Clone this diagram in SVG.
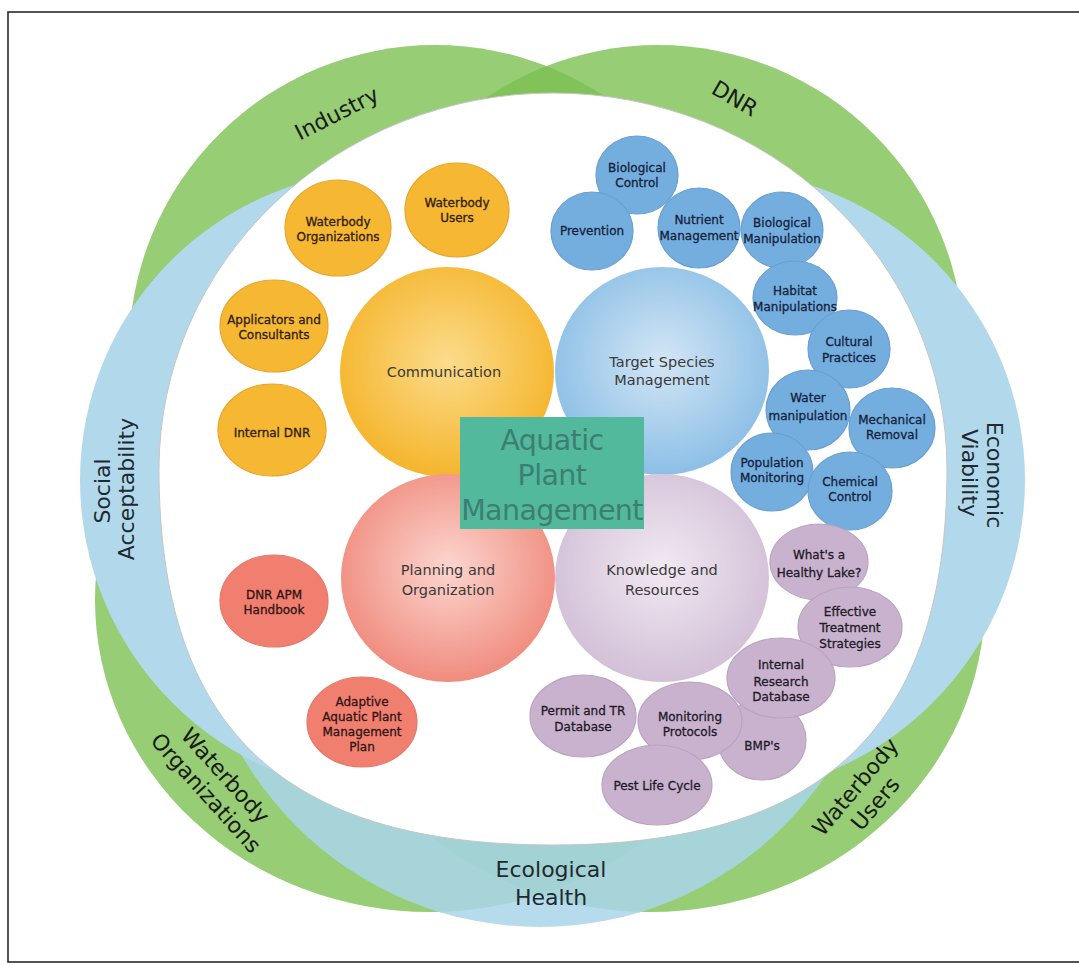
<svg xmlns="http://www.w3.org/2000/svg" width="1079" height="965" viewBox="0 0 1079 965">
<defs>
<style>
.gr{fill:#7cc052;fill-opacity:0.8}
.bl{fill:#b2d9eb}
.eco{fill:#a9d5ea;fill-opacity:0.85}
.bandtxt{font-family:"DejaVu Sans",sans-serif;font-size:22px;fill:#1a1a1a;text-anchor:middle}
.bluetxt{fill:#1e2a30}
.sm{font-family:"DejaVu Sans",sans-serif;font-size:12px;text-anchor:middle;stroke-width:0.3}
.big{font-family:"DejaVu Sans",sans-serif;font-size:14.5px;text-anchor:middle;fill:#3a3a3a}
.o{fill:#f6b733;stroke:#e8a52c;stroke-width:1.2}
.ot{fill:#2e2010;stroke:#2e2010}
.b{fill:#74aedf;stroke:#679fd0;stroke-width:1.2}
.bt{fill:#14223c;stroke:#14223c}
.r{fill:#f07f70;stroke:#e6786a;stroke-width:1.2}
.rt{fill:#301412;stroke:#301412}
.p{fill:#c9b2cd;stroke:#bba3c0;stroke-width:1.2}
.pt{fill:#221a28;stroke:#221a28}
.box{font-family:"DejaVu Sans",sans-serif;font-size:28.5px;letter-spacing:-0.6px;fill:#3c7f71;text-anchor:middle}
</style>
<clipPath id="cTop"><rect x="0" y="0" width="1079" height="481"/></clipPath>
<clipPath id="cBot"><rect x="0" y="479" width="1079" height="486"/></clipPath>
<radialGradient id="gO" cx="50%" cy="45%" r="55%"><stop offset="0" stop-color="#fbdc8c"/><stop offset="1" stop-color="#f5b52c"/></radialGradient>
<radialGradient id="gB" cx="50%" cy="45%" r="55%"><stop offset="0" stop-color="#d3e6f5"/><stop offset="1" stop-color="#8cbfe6"/></radialGradient>
<radialGradient id="gR" cx="50%" cy="45%" r="55%"><stop offset="0" stop-color="#fcd6cf"/><stop offset="1" stop-color="#f08c7e"/></radialGradient>
<radialGradient id="gP" cx="50%" cy="45%" r="55%"><stop offset="0" stop-color="#f1e9f2"/><stop offset="1" stop-color="#d2c0d7"/></radialGradient>
</defs>
<rect x="0" y="0" width="1079" height="965" fill="#ffffff"/>
<rect x="8" y="12" width="1085" height="950" fill="none" stroke="#2a2a2a" stroke-width="1.6"/>

<g id="bands">
  <circle class="gr" cx="435" cy="351" r="306"/>
  <circle class="gr" cx="658" cy="351" r="306"/>
  <ellipse class="gr" cx="430" cy="600" rx="335" ry="312"/>
  <ellipse class="gr" cx="650" cy="600" rx="335" ry="312"/>
  <circle class="eco" cx="540" cy="582" r="345"/>
  <circle class="bl" cx="390" cy="480" r="310" clip-path="url(#cTop)"/>
  <circle class="bl" cx="395" cy="480" r="315" clip-path="url(#cBot)"/>
  <circle class="bl" cx="715" cy="480" r="310" clip-path="url(#cTop)"/>
  <circle class="bl" cx="710" cy="480" r="315" clip-path="url(#cBot)"/>
  <path d="M159 469 A394 376 0 0 1 947 469 C947 727.7 824.1 845 553 845 C281.9 845 159 727.7 159 469 Z" fill="#ffffff" stroke="#c6c6c6" stroke-width="1"/>
</g>

<g id="band-labels">
  <text class="bandtxt" transform="translate(337,114) rotate(-27)" x="0" y="7">Industry</text>
  <text class="bandtxt" transform="translate(735,98) rotate(30)" x="0" y="8">DNR</text>
  <text class="bandtxt bluetxt" transform="translate(110,491) rotate(-90)">Social</text>
  <text class="bandtxt bluetxt" transform="translate(134,489) rotate(-90)">Acceptability</text>
  <text class="bandtxt bluetxt" transform="translate(987,475) rotate(90)">Economic</text>
  <text class="bandtxt bluetxt" transform="translate(962,473) rotate(90)">Viability</text>
  <text class="bandtxt bluetxt" x="551" y="877">Ecological</text>
  <text class="bandtxt bluetxt" x="551" y="905">Health</text>
  <g transform="translate(216,784) rotate(48)">
    <text class="bandtxt" x="0" y="-5">Waterbody</text>
    <text class="bandtxt" x="0" y="21">Organizations</text>
  </g>
  <g transform="translate(865,795) rotate(-50)">
    <text class="bandtxt" x="0" y="-5">Waterbody</text>
    <text class="bandtxt" x="0" y="21">Users</text>
  </g>
</g>

<g id="communication"><ellipse cx="447" cy="372" rx="107" ry="105" fill="url(#gO)"/><text class="big" x="444" y="377">Communication</text></g>
<g id="target-species"><ellipse cx="662" cy="371" rx="107" ry="104" fill="url(#gB)"/><text class="big" x="662" y="367">Target Species</text><text class="big" x="662" y="385">Management</text></g>
<g id="planning"><ellipse cx="448" cy="578" rx="107" ry="104" fill="url(#gR)"/><text class="big" x="448" y="575">Planning and</text><text class="big" x="448" y="595">Organization</text></g>
<g id="knowledge"><ellipse cx="662" cy="578" rx="107" ry="104" fill="url(#gP)"/><text class="big" x="662" y="575">Knowledge and</text><text class="big" x="662" y="595">Resources</text></g>

<g id="waterbody-organizations"><ellipse class="o" cx="338" cy="228" rx="53" ry="48"/><text class="sm ot" x="338" y="226">Waterbody</text><text class="sm ot" x="338" y="241">Organizations</text></g>
<g id="waterbody-users"><ellipse class="o" cx="457" cy="210" rx="52" ry="47"/><text class="sm ot" x="457" y="207">Waterbody</text><text class="sm ot" x="457" y="222">Users</text></g>
<g id="applicators"><ellipse class="o" cx="274" cy="326" rx="54" ry="46"/><text class="sm ot" x="274" y="324">Applicators and</text><text class="sm ot" x="274" y="339">Consultants</text></g>
<g id="internal-dnr"><ellipse class="o" cx="272" cy="430" rx="54" ry="46"/><text class="sm ot" x="272" y="437">Internal DNR</text></g>

<g id="biological-control"><ellipse class="b" cx="637" cy="175" rx="41" ry="39"/><text class="sm bt" x="637" y="172">Biological</text><text class="sm bt" x="637" y="187">Control</text></g>
<g id="prevention"><ellipse class="b" cx="592" cy="231" rx="41" ry="39"/><text class="sm bt" x="592" y="235">Prevention</text></g>
<g id="nutrient-management"><ellipse class="b" cx="699" cy="228" rx="41" ry="40"/><text class="sm bt" x="699" y="224">Nutrient</text><text class="sm bt" x="699" y="240">Management</text></g>
<g id="biological-manipulation"><ellipse class="b" cx="782" cy="230" rx="41" ry="38"/><text class="sm bt" x="782" y="227">Biological</text><text class="sm bt" x="782" y="243">Manipulation</text></g>
<g id="habitat-manipulations"><ellipse class="b" cx="795" cy="298" rx="42" ry="37"/><text class="sm bt" x="795" y="295">Habitat</text><text class="sm bt" x="795" y="311">Manipulations</text></g>
<g id="cultural-practices"><ellipse class="b" cx="849" cy="349" rx="41" ry="39"/><text class="sm bt" x="849" y="346">Cultural</text><text class="sm bt" x="849" y="362">Practices</text></g>
<g id="water-manipulation"><ellipse class="b" cx="808" cy="410" rx="42" ry="40"/><text class="sm bt" x="808" y="402">Water</text><text class="sm bt" x="808" y="420">manipulation</text></g>
<g id="mechanical-removal"><ellipse class="b" cx="892" cy="428" rx="43" ry="40"/><text class="sm bt" x="892" y="424">Mechanical</text><text class="sm bt" x="892" y="439">Removal</text></g>
<g id="population-monitoring"><ellipse class="b" cx="772" cy="472" rx="41" ry="39"/><text class="sm bt" x="772" y="467">Population</text><text class="sm bt" x="772" y="482">Monitoring</text></g>
<g id="chemical-control"><ellipse class="b" cx="850" cy="491" rx="42" ry="39"/><text class="sm bt" x="850" y="486">Chemical</text><text class="sm bt" x="850" y="501">Control</text></g>

<g id="dnr-apm-handbook"><ellipse class="r" cx="274" cy="601" rx="54" ry="46"/><text class="sm rt" x="274" y="599">DNR APM</text><text class="sm rt" x="274" y="614">Handbook</text></g>
<g id="adaptive-plan"><ellipse class="r" cx="362" cy="722" rx="55" ry="45"/><text class="sm rt" x="362" y="706">Adaptive</text><text class="sm rt" x="362" y="721">Aquatic Plant</text><text class="sm rt" x="362" y="736">Management</text><text class="sm rt" x="362" y="751">Plan</text></g>

<g id="healthy-lake"><ellipse class="p" cx="819" cy="562" rx="49" ry="38"/><text class="sm pt" x="819" y="559">What's a</text><text class="sm pt" x="819" y="577">Healthy Lake?</text></g>
<g id="effective-treatment"><ellipse class="p" cx="850" cy="627" rx="52" ry="40"/><text class="sm pt" x="850" y="616">Effective</text><text class="sm pt" x="850" y="632">Treatment</text><text class="sm pt" x="850" y="648">Strategies</text></g>
<g id="bmps"><ellipse class="p" cx="762" cy="740" rx="44" ry="40"/><text class="sm pt" x="762" y="750">BMP's</text></g>
<g id="internal-research"><ellipse class="p" cx="781" cy="678" rx="54" ry="40"/><text class="sm pt" x="781" y="669">Internal</text><text class="sm pt" x="781" y="686">Research</text><text class="sm pt" x="781" y="701">Database</text></g>
<g id="permit-database"><ellipse class="p" cx="583" cy="716" rx="53" ry="41"/><text class="sm pt" x="583" y="715">Permit and TR</text><text class="sm pt" x="583" y="731">Database</text></g>
<g id="monitoring-protocols"><ellipse class="p" cx="690" cy="721" rx="52" ry="39"/><text class="sm pt" x="690" y="721">Monitoring</text><text class="sm pt" x="690" y="736">Protocols</text></g>
<g id="pest-life-cycle"><ellipse class="p" cx="657" cy="785" rx="55" ry="40"/><text class="sm pt" x="657" y="790">Pest Life Cycle</text></g>

<g id="aquatic-plant-management">
  <rect x="460" y="417" width="184" height="112" fill="#52b99c"/>
  <text class="box" x="552" y="450">Aquatic</text>
  <text class="box" x="552" y="485">Plant</text>
  <text class="box" x="552" y="520">Management</text>
</g>
</svg>
